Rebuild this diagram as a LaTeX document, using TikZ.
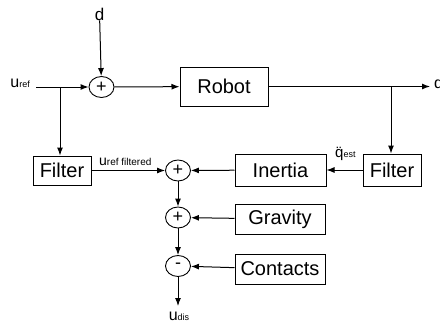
\documentclass[tikz,border=0pt]{standalone}
\usepackage{fontspec}
\setmainfont{Liberation Sans}
\usetikzlibrary{arrows.meta,shapes.geometric}
\newcommand{\bigu}[2]{{\fontsize{16}{16}\selectfont #1}{\fontsize{9}{9}\selectfont #2}}
\begin{document}
\begin{tikzpicture}[x=1pt,y=-1pt,
  box/.style={draw,line width=1pt,inner sep=0pt,font=\fontsize{20}{24}\selectfont},
  sumnode/.style={draw,ellipse,line width=0.9pt,minimum width=25pt,minimum height=21pt,inner sep=0pt,font=\fontsize{18}{18}\selectfont},
  arr/.style={-{Latex[length=8pt,width=6pt]},line width=1pt},
  lab/.style={inner sep=0pt}]
\useasboundingbox (0,0) rectangle (440,324);
% top row
\node[lab,font=\fontsize{17}{17}\selectfont,anchor=base] (d) at (99.5,20) {d};
\node[sumnode] (s1) at (101.5,87) {+};
\node[box,minimum width=88pt,minimum height=39pt] (robot) at (224,86.5) {Robot};
\node[lab,anchor=base east] (uref) at (30,88) {\bigu{u}{ref}};
\node[lab,anchor=west,font=\fontsize{16}{16}\selectfont] (q) at (434,85.5) {q};
\coordinate (urefs) at (36,87);
\coordinate (br1) at (60,87);
\coordinate (br2) at (391,86.5);
% second row
\node[box,minimum width=58pt,minimum height=29pt] (filterL) at (62,170.5) {Filter};
\node[box,minimum width=58pt,minimum height=32pt] (filterR) at (392,170) {Filter};
\node[box,minimum width=91pt,minimum height=32pt] (inertia) at (280.5,170) {Inertia};
\node[box,minimum width=90pt,minimum height=30pt] (gravity) at (280,219) {Gravity};
\node[box,minimum width=90pt,minimum height=30pt] (contacts) at (280,269) {Contacts};
\node[sumnode] (s2) at (178,170.5) {+};
\node[sumnode] (s3) at (178,217.5) {+};
\node[sumnode] (s4) at (178,266) {-};
\node[lab,anchor=base west] (ureff) at (99,165) {{\fontsize{14}{14}\selectfont u}{\fontsize{10}{10}\selectfont ref filtered}};
\node[lab,anchor=base west] (qest) at (335,157) {{\fontsize{15}{15}\selectfont \"q}{\fontsize{9}{9}\selectfont est}};
\node[lab,anchor=base] (udis) at (179,320) {\bigu{u}{dis}};
\coordinate (udisin) at (178,306);
% connectors
\draw[arr] (d) -- (s1);
\draw[arr] (urefs) -- (s1);
\draw[arr] (s1) -- (robot);
\draw[arr] (robot.east) -- (430,86.5) coordinate (qin);
\draw[arr] (br1) -- (br1 |- filterL.north);
\draw[arr] (br2) -- (br2 |- filterR.north);
\draw[arr] (filterL) -- (s2);
\draw[arr] (filterR) -- (inertia);
\draw[arr] (inertia) -- (s2);
\draw[arr] (gravity) -- (s3);
\draw[arr] (contacts) -- (s4);
\draw[arr] (s2) -- (s3);
\draw[arr] (s3) -- (s4);
\draw[arr] (s4) -- (udisin);
\end{tikzpicture}
\end{document}
